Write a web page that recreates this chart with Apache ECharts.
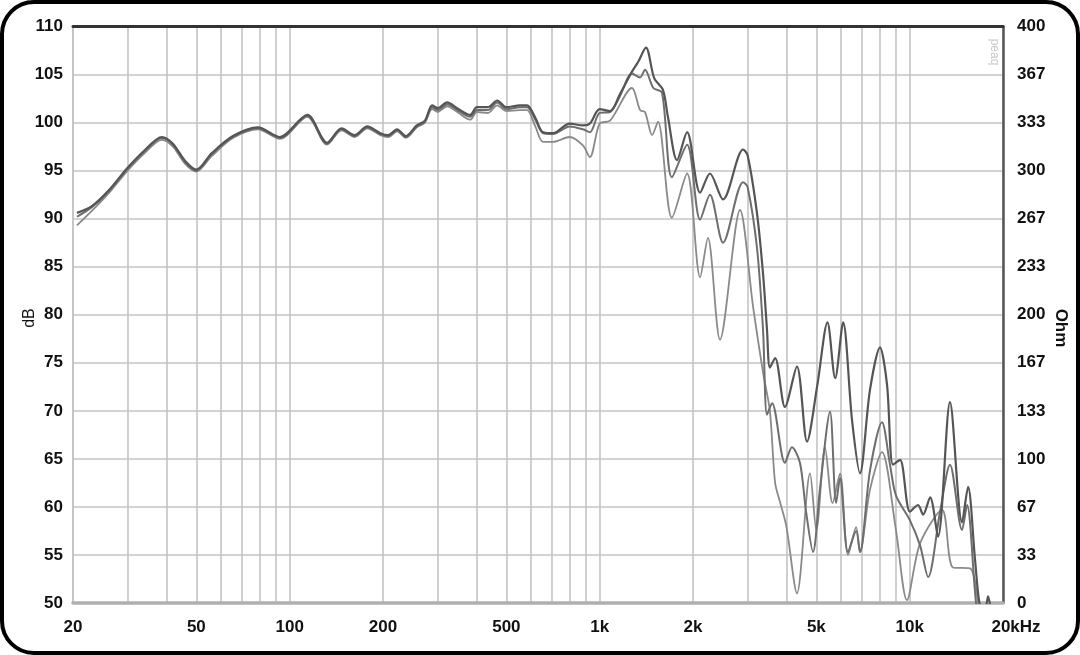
<!DOCTYPE html>
<html>
<head>
<meta charset="utf-8">
<script src="https://cdn.jsdelivr.net/npm/echarts@6/dist/echarts.min.js"></script>
<style>
  html, body { margin: 0; padding: 0; background: #fff; }
  #chart { position: absolute; left: 0; top: 0; width: 1080px; height: 655px; }
  #frame { position: absolute; left: 0; top: 0; width: 1080px; height: 655px; box-sizing: border-box;
           border: 4px solid #000; border-radius: 34px; pointer-events: none; }
</style>
</head>
<body>
<div id="chart"></div>
<div id="frame"></div>
<script>
// frequency grid / label positions (Hz)
var gridFreqs = [20, 30, 40, 50, 60, 70, 80, 90, 100, 200, 300, 400, 500, 600, 700, 800, 900,
  1000, 2000, 3000, 4000, 5000, 6000, 7000, 8000, 9000, 10000, 20000];
var labelFreqs = [20, 50, 100, 200, 500, 1000, 2000, 5000, 10000, 20000];

// response curves [Hz, dB]
var curveA = [[20.6, 90.6], [23, 91.3], [26, 92.9], [30, 95.3], [34, 97.1], [38.7, 98.5], [42, 97.8], [46, 96.0],
  [50, 95.1], [56, 96.8], [65.6, 98.6], [79, 99.5], [93, 98.5], [114, 100.8], [132, 97.9], [147, 99.4],
  [162, 98.7], [178, 99.6], [196, 98.9], [208, 98.7], [222, 99.3], [237, 98.6], [257, 99.7], [273, 100.2],
  [288, 101.8], [300, 101.5], [322, 102.1], [347, 101.5], [382, 100.8], [402, 101.6], [436, 101.6],
  [467, 102.3], [501, 101.6], [553, 101.8], [583, 101.8], [620, 100.5], [656, 99.0], [707, 98.9],
  [800, 99.9], [884, 99.7], [930, 99.9], [1000, 101.4], [1080, 101.2], [1164, 103.0], [1271, 105.3],
  [1330, 106.3], [1410, 107.8], [1500, 104.6], [1600, 103.4], [1660, 100.6], [1776, 96.1], [1914, 99.0],
  [2108, 92.7], [2268, 94.7], [2500, 92.0], [2900, 97.2], [3000, 96.6], [3216, 90.6], [3364, 84.3],
  [3466, 78.4], [3540, 74.5], [3680, 75.5], [3960, 70.4], [4328, 74.6], [4665, 66.8], [5037, 72.7],
  [5430, 79.2], [5750, 73.4], [6100, 79.2], [6518, 69.0], [6912, 63.5], [7448, 72.2], [8020, 76.6],
  [8452, 72.7], [8832, 64.4], [9310, 64.9], [10020, 59.5], [10640, 60.2], [11050, 59.2], [11640, 61.0],
  [12340, 56.9], [13490, 70.9], [14750, 58.4], [15430, 62.1], [16250, 54.5], [16870, 49.6],
  [17510, 49.4], [17900, 50.7], [18260, 49.4]];

var curveB = [[20.6, 90.2], [23, 91.2], [26, 92.8], [30, 95.2], [34, 97.0], [38.7, 98.4], [42, 97.7], [46, 95.9],
  [50, 95.0], [56, 96.7], [65.6, 98.5], [79, 99.4], [93, 98.4], [114, 100.7], [132, 97.8], [147, 99.3],
  [162, 98.6], [178, 99.5], [196, 98.8], [208, 98.6], [222, 99.2], [237, 98.5], [257, 99.6], [273, 100.1],
  [288, 101.6], [300, 101.3], [322, 101.9], [347, 101.3], [382, 100.6], [402, 101.3], [436, 101.3],
  [467, 102.1], [501, 101.4], [553, 101.6], [583, 101.6], [620, 100.3], [656, 98.9], [707, 98.8],
  [800, 99.6], [884, 99.3], [930, 99.0], [1000, 101.0], [1080, 101.1], [1164, 102.8], [1271, 105.1],
  [1350, 104.7], [1400, 105.5], [1490, 103.6], [1589, 103.1], [1710, 94.3], [1914, 97.7], [2108, 89.9],
  [2268, 92.5], [2500, 87.5], [2900, 93.8], [3000, 93.3], [3216, 87.0], [3364, 78.5], [3466, 69.6],
  [3598, 70.8], [3960, 64.6], [4170, 66.2], [4426, 64.6], [4632, 59.5], [4878, 55.3], [5140, 62.0],
  [5534, 69.9], [5790, 60.4], [5960, 63.0], [6325, 55.3], [6720, 57.5], [6912, 55.3], [7448, 63.8],
  [8140, 68.8], [8640, 64.4], [9030, 61.2], [10020, 58.6], [10800, 56.0], [11470, 52.7], [12530, 59.5],
  [13490, 64.4], [14750, 57.6], [15310, 60.2], [16370, 50.0], [16870, 48.0]];

var curveC = [[20.6, 89.3], [23, 90.8], [26, 92.6], [30, 95.0], [34, 96.8], [38.7, 98.2], [42, 97.5], [46, 95.7],
  [50, 94.9], [56, 96.5], [65.6, 98.4], [79, 99.3], [93, 98.3], [114, 100.6], [132, 97.7], [147, 99.2],
  [162, 98.5], [178, 99.4], [196, 98.7], [208, 98.5], [222, 99.1], [237, 98.4], [257, 99.5], [273, 100.0],
  [288, 101.4], [300, 101.1], [322, 101.7], [347, 101.1], [382, 100.3], [402, 101.1], [436, 101.0],
  [467, 101.8], [501, 101.2], [553, 101.3], [583, 101.3], [620, 99.6], [656, 98.0], [707, 98.0],
  [800, 98.5], [884, 97.6], [930, 96.4], [1000, 99.9], [1080, 100.2], [1271, 103.6], [1350, 101.3],
  [1400, 101.1], [1476, 98.7], [1542, 100.1], [1710, 90.1], [1914, 94.7], [2108, 83.9], [2234, 88.0],
  [2444, 77.4], [2836, 90.9], [3126, 80.8], [3364, 74.0], [3540, 70.0], [3680, 62.5], [3818, 60.5],
  [4000, 58.0], [4328, 51.0], [4770, 63.5], [5000, 57.6], [5332, 66.2], [5640, 60.4], [5960, 63.5],
  [6325, 55.0], [6720, 57.9], [6912, 55.3], [7448, 61.8], [8140, 65.7], [9030, 57.6], [9800, 50.3],
  [10800, 56.2], [12720, 59.7], [13790, 53.7], [15660, 53.6], [16620, 50.0], [17000, 48.0]];

var ohmLabels = ['0', '33', '67', '100', '133', '167', '200', '233', '267', '300', '333', '367', '400'];

var myChart = echarts.init(document.getElementById('chart'));

var labelFont = {
  fontFamily: 'Liberation Sans, Arial, sans-serif',
  fontWeight: 'bold',
  fontSize: 17,
  color: '#111'
};

function freqLabel(v) {
  var f = Math.round(v);
  if (f >= 20000) return '{last|20kHz}';
  if (f >= 1000) return (f / 1000) + 'k';
  return String(f);
}

function curve(data, color, width) {
  return {
    type: 'line',
    data: data,
    symbol: 'none',
    smooth: 0.3,
    clip: true,
    lineStyle: { color: color, width: width },
    silent: true
  };
}

var option = {
  animation: false,
  backgroundColor: 'transparent',
  grid: { left: 73, right: 77, top: 26.5, bottom: 52 },
  xAxis: [
    {
      type: 'log',
      logBase: 10,
      min: 20,
      max: 20000,
      axisLine: { show: true, lineStyle: { color: '#b0b0b0', width: 3.5 } },
      axisTick: { show: false, customValues: gridFreqs },
      axisLabel: Object.assign({
        customValues: labelFreqs,
        margin: 16,
        formatter: freqLabel,
        rich: { last: Object.assign({ padding: [0, 0, 0, 26] }, labelFont) }
      }, labelFont),
      splitLine: { show: true, lineStyle: { color: '#c4c4c4', width: 1.6 } }
    },
    {
      type: 'log',
      logBase: 10,
      min: 20,
      max: 20000,
      position: 'top',
      axisLine: { show: true, lineStyle: { color: '#333', width: 3 } },
      axisTick: { show: false },
      axisLabel: { show: false },
      splitLine: { show: false }
    }
  ],
  yAxis: [
    {
      type: 'value',
      min: 50,
      max: 110,
      interval: 5,
      axisLine: { show: true, lineStyle: { color: '#c4c4c4', width: 1.6 } },
      axisTick: { show: false },
      axisLabel: Object.assign({ margin: 10 }, labelFont),
      splitLine: { show: true, lineStyle: { color: '#c4c4c4', width: 1.6 } }
    },
    {
      type: 'value',
      min: 0,
      max: 400,
      interval: 400 / 12,
      position: 'right',
      axisLine: { show: true, lineStyle: { color: '#555', width: 2.5 } },
      axisTick: { show: false },
      axisLabel: Object.assign({
        margin: 14,
        formatter: function (v) { return ohmLabels[Math.round(v / (400 / 12))]; }
      }, labelFont),
      splitLine: { show: false }
    }
  ],
  graphic: [
    {
      type: 'text', x: 30, y: 318, rotation: Math.PI / 2,
      style: { text: 'dB', fill: '#111', font: '16px Liberation Sans, Arial, sans-serif',
               textAlign: 'center', textVerticalAlign: 'middle' }
    },
    {
      type: 'text', x: 1061, y: 328, rotation: -Math.PI / 2,
      style: { text: 'Ohm', fill: '#111', font: 'bold 17px Liberation Sans, Arial, sans-serif',
               textAlign: 'center', textVerticalAlign: 'middle' }
    },
    {
      type: 'text', x: 994, y: 52, rotation: -Math.PI / 2,
      style: { text: 'peaq', fill: '#c8c8c8', font: '12px Liberation Sans, Arial, sans-serif',
               textAlign: 'center', textVerticalAlign: 'middle' }
    }
  ],
  series: [
    curve(curveC, '#8a8a8a', 1.8),
    curve(curveB, '#6e6e6e', 2),
    curve(curveA, '#555555', 2.2)
  ]
};

myChart.setOption(option);
window.onresize = function () { myChart.resize(); };
</script>
</body>
</html>
